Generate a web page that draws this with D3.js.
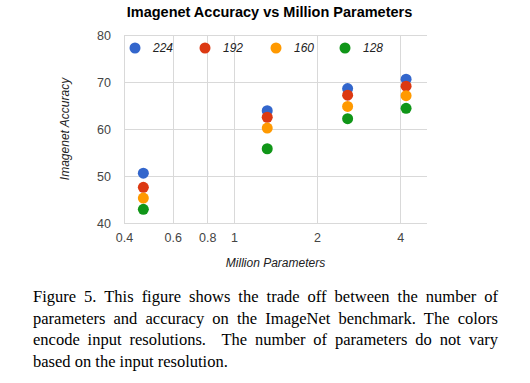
<!DOCTYPE html>
<html>
<head>
<meta charset="utf-8">
<script src="https://cdn.jsdelivr.net/npm/d3@7"></script>
<style>
  html, body { margin: 0; padding: 0; background: #fff; }
  #wrap { position: relative; width: 530px; height: 383px; overflow: hidden; }
  svg { position: absolute; left: 0; top: 0; }
  #caption { position: absolute; left: 33px; top: 286px; width: 465px;
    font-family: "Liberation Serif", "Times New Roman", serif; font-size: 16.5px;
    line-height: 21.7px; text-align: justify; color: #000; }
</style>
</head>
<body>
<div id="wrap">
<svg id="chart" width="530" height="285"></svg>
<div id="caption">Figure 5. This figure shows the trade off between the number of parameters and accuracy on the ImageNet benchmark. The colors encode input resolutions.&nbsp; The number of parameters do not vary based on the input resolution.</div>
</div>
<script>
const params = [0.47, 1.32, 2.58, 4.2];
const seriesNames = ["224", "192", "160", "128"];
const acc224 = [50.6, 63.9, 68.6, 70.6];
const acc192 = [47.6, 62.5, 67.2, 69.1];
const acc160 = [45.3, 60.2, 64.8, 67.1];
const acc128 = [42.9, 55.8, 62.2, 64.4];
const seriesColors = ["#3366cc", "#dc3912", "#ff9900", "#109618"];
const xTicks = [0.4, 0.6, 0.8, 1, 2, 4];
const xTickLabels = ["0.4", "0.6", "0.8", "1", "2", "4"];
const yTicks = [40, 50, 60, 70, 80];
const title = "Imagenet Accuracy vs Million Parameters";
const xTitle = "Million Parameters";
const yTitle = "Imagenet Accuracy";

const series = [acc224, acc192, acc160, acc128];
const svg = d3.select("#chart");
const L = 124, R = 427, T = 35, B = 223;

const x = d3.scaleLog().domain([0.4, 5]).range([L, R]);
const y = d3.scaleLinear().domain([40, 80]).range([B, T]);

const sans = "'Liberation Sans', Arial, sans-serif";

// gridlines
const gridColor = "#d9d9d9";
svg.append("g").selectAll("line.h").data(yTicks).join("line")
  .attr("x1", L).attr("x2", R)
  .attr("y1", d => Math.round(y(d)) + 0.5).attr("y2", d => Math.round(y(d)) + 0.5)
  .attr("stroke", gridColor).attr("stroke-width", 1);
svg.append("g").selectAll("line.v").data(xTicks).join("line")
  .attr("x1", d => Math.round(x(d)) + 0.5).attr("x2", d => Math.round(x(d)) + 0.5)
  .attr("y1", T).attr("y2", B)
  .attr("stroke", gridColor).attr("stroke-width", 1);

// axes labels via d3 axes (no domain/ticks lines)
const xAxis = d3.axisBottom(x).tickValues(xTicks).tickSize(0).tickPadding(0)
  .tickFormat((d, i) => xTickLabels[i]);
const gx = svg.append("g").attr("transform", `translate(0,${B + 19})`).call(xAxis);
gx.select(".domain").remove();
gx.selectAll("text").attr("dy", 0).attr("font-family", sans).attr("font-size", 12.5).attr("fill", "#444");

const yAxis = d3.axisLeft(y).tickValues(yTicks).tickSize(0).tickPadding(0);
const gy = svg.append("g").attr("transform", `translate(${L - 13},0)`).call(yAxis);
gy.select(".domain").remove();
gy.selectAll("text").attr("dy", "0.35em").attr("font-family", sans).attr("font-size", 12.5).attr("fill", "#444");

// points
series.forEach((vals, si) => {
  svg.append("g").selectAll("circle").data(vals).join("circle")
    .attr("cx", (d, i) => x(params[i]))
    .attr("cy", d => y(d))
    .attr("r", 5.5)
    .attr("fill", seriesColors[si]);
});

// legend
const legendX = [135, 205, 276, 345];
const lg = svg.append("g");
seriesNames.forEach((n, i) => {
  lg.append("circle").attr("cx", legendX[i]).attr("cy", 48).attr("r", 5.5).attr("fill", seriesColors[i]);
  lg.append("text").attr("x", legendX[i] + 18).attr("y", 52)
    .attr("font-family", sans).attr("font-size", 12).attr("font-style", "italic")
    .attr("fill", "#222").text(n);
});

// title
svg.append("text").attr("x", (124 + 415) / 2).attr("y", 17).attr("text-anchor", "middle")
  .attr("font-family", sans).attr("font-size", 14.5).attr("font-weight", "bold").attr("fill", "#000")
  .text(title);

// axis titles
svg.append("text").attr("x", (L + R) / 2).attr("y", 267).attr("text-anchor", "middle")
  .attr("font-family", sans).attr("font-size", 12).attr("font-style", "italic").attr("fill", "#222")
  .text(xTitle);
svg.append("text").attr("transform", `translate(69,${(T + B) / 2}) rotate(-90)`)
  .attr("text-anchor", "middle")
  .attr("font-family", sans).attr("font-size", 12).attr("font-style", "italic").attr("fill", "#222")
  .text(yTitle);
</script>
</body>
</html>
